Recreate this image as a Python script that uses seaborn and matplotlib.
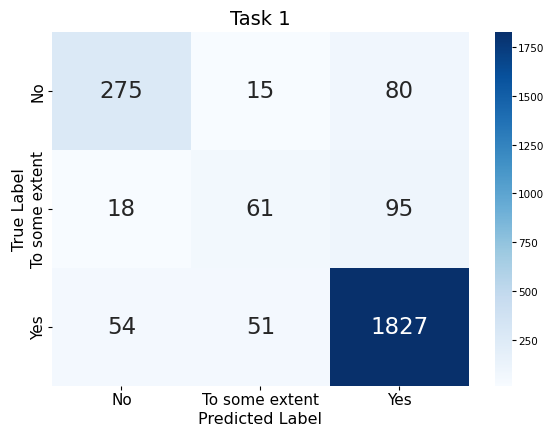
import matplotlib
matplotlib.use("Agg")
import matplotlib.pyplot as plt
import seaborn as sns
import numpy as np

labels = ["No", "To some extent", "Yes"]
row_no = [275, 15, 80]
row_some = [18, 61, 95]
row_yes = [54, 51, 1827]

cm = np.array([row_no, row_some, row_yes])

fig = plt.figure(figsize=(5.47, 4.27), dpi=100)
ax = fig.add_axes([0.095, 0.094, 0.762, 0.829])
cax = fig.add_axes([0.905, 0.094, 0.031, 0.829])
sns.heatmap(cm, annot=True, fmt="d", cmap="Blues", ax=ax, cbar_ax=cax,
            xticklabels=labels, yticklabels=labels,
            annot_kws={"fontsize": 16.5})
ax.set_title("Task 1", fontsize=14)
ax.set_xlabel("Predicted Label", fontsize=11.5, labelpad=2.5)
ax.set_ylabel("True Label", fontsize=11.5, labelpad=2.5)
ax.tick_params(axis="both", labelsize=11, pad=1.5, length=3)
plt.setp(ax.get_yticklabels(), rotation=90, va="center")
cax.tick_params(labelsize=7.5, pad=1.5, length=3)
fig.savefig("out.png", dpi=100)
